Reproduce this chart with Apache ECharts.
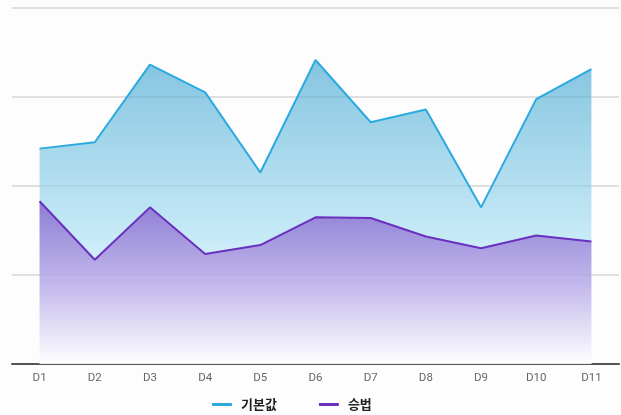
<!DOCTYPE html>
<html><head><meta charset="utf-8">
<script src="https://cdn.jsdelivr.net/npm/echarts@6/dist/echarts.min.js"></script>
<style>html,body{margin:0;padding:0;background:#fdfdfd}#c{width:621px;height:415px}</style>
</head><body><div id="c"></div>
<script>
const categories = ['D1','D2','D3','D4','D5','D6','D7','D8','D9','D10','D11'];
const baseValues = [60.5, 62.3, 84.1, 76.3, 53.8, 85.4, 67.9, 71.5, 44.0, 74.4, 82.8];
const multValues = [45.7, 29.3, 44.0, 30.9, 33.4, 41.2, 41.0, 35.8, 32.5, 36.1, 34.4];
const seriesNames = ['기본값', '승법'];

const chart = echarts.init(document.getElementById('c'), null, {renderer:'canvas'});
const grad = (stops) => new echarts.graphic.LinearGradient(0,0,0,1, stops);
chart.setOption({
  backgroundColor: '#fdfdfd',
  animation: false,
  grid: {left: 12, right: 2, top: 8, bottom: 51},
  legend: {
    top: 393, left: 207, itemGap: 42,
    icon: 'roundRect', itemWidth: 20, itemHeight: 3,
    textStyle: {fontFamily: 'Noto Sans CJK KR', fontSize: 13, fontWeight: 'bold', color: '#222', padding: [0,0,0,4]},
    data: seriesNames
  },
  xAxis: {
    type: 'category', data: categories, boundaryGap: true,
    axisLine: {lineStyle: {color: '#555', width: 2}},
    axisTick: {show: false},
    axisLabel: {color: '#666', fontSize: 11.5, margin: 8, fontFamily: 'Roboto'}
  },
  yAxis: {
    type: 'value', min: 0, max: 100, interval: 25,
    axisLabel: {show: false}, axisLine: {show: false}, axisTick: {show: false},
    splitLine: {lineStyle: {color: '#d6d6d6', width: 1.5}}
  },
  series: [
    {
      name: seriesNames[0], type: 'line', data: baseValues, showSymbol: false,
      itemStyle: {color: '#2aaae0'},
      lineStyle: {color: '#2aaae0', width: 2},
      areaStyle: {color: grad([
        {offset: 0, color: 'rgba(72,168,208,0.95)'},
        {offset: 0.6, color: 'rgba(175,226,245,0.95)'},
        {offset: 1, color: 'rgba(255,255,255,0.95)'}
      ]), origin: 'start'}
    },
    {
      name: seriesNames[1], type: 'line', data: multValues, showSymbol: false,
      itemStyle: {color: '#6a30c0'},
      lineStyle: {color: '#6a30c0', width: 2},
      areaStyle: {color: grad([
        {offset: 0, color: 'rgba(122,82,198,1)'},
        {offset: 0.5, color: 'rgba(180,152,228,0.95)'},
        {offset: 1, color: 'rgba(255,255,255,0.95)'}
      ]), origin: 'start'}
    }
  ]
});
</script></body></html>
